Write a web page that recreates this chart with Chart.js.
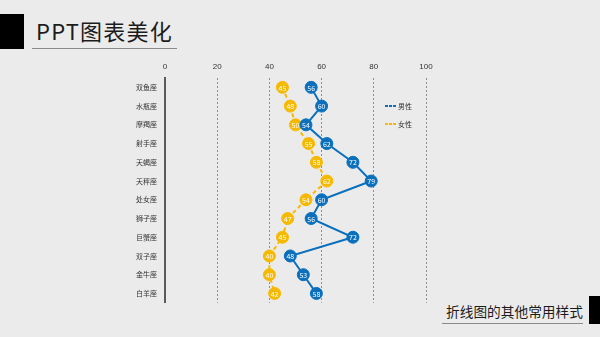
<!DOCTYPE html>
<html>
<head>
<meta charset="utf-8">
<script src="https://cdn.jsdelivr.net/npm/chart.js@4/dist/chart.umd.min.js"></script>
<style>
    body { margin: 0; width: 600px; height: 337px; background: #ebebeb; position: relative; overflow: hidden; font-family: "Noto Sans CJK SC", sans-serif; }
    .bloc { position: absolute; background: #000; }
    .titre { position: absolute; left: 36px; top: 14px; font-size: 22px; color: #1c1c1c; line-height: 32px; white-space: nowrap; letter-spacing: 1.2px; }
    .trait { position: absolute; height: 1px; background: #8a8a8a; }
    .soustitre { position: absolute; left: 446px; top: 300px; font-size: 13.7px; color: #1c1c1c; line-height: 22px; white-space: nowrap; }
    #zone { position: absolute; left: 100px; top: 55px; width: 340px; height: 260px; }
    .legende { position: absolute; left: 385px; font-size: 7px; color: #333; display: flex; align-items: center; white-space: nowrap; }
    .legende span { display: inline-block; width: 12px; height: 2px; margin-right: 1px; }
</style>
</head>
<body>
<div class="bloc" style="left:0;top:14px;width:24px;height:35px"></div>
<div class="titre">PPT图表美化</div>
<div class="trait" style="left:32px;top:48px;width:145px"></div>

<div id="zone"><canvas id="graphe"></canvas></div>

<div class="legende" style="top:101px"><span style="background:repeating-linear-gradient(90deg,#0a6fbd 0 3px,transparent 3px 4px)"></span>男性</div>
<div class="legende" style="top:119px"><span style="background:repeating-linear-gradient(90deg,#f7b900 0 3px,transparent 3px 4px)"></span>女性</div>

<div class="soustitre">折线图的其他常用样式</div>
<div class="trait" style="left:442px;top:323px;width:141px"></div>
<div class="bloc" style="left:589px;top:296px;width:11px;height:28px"></div>

<script>
// --- donnees ---
const signes = ["双鱼座", "水瓶座", "摩羯座", "射手座", "天蝎座", "天秤座", "处女座", "狮子座", "巨蟹座", "双子座", "金牛座", "白羊座"];
const hommes = [56, 60, 54, 62, 72, 79, 60, 56, 72, 48, 53, 58];
const femmes = [45, 48, 50, 55, 58, 62, 54, 47, 45, 40, 40, 42];
const graduations = [0, 20, 40, 60, 80, 100];

const bleu = "#0a6fbd";
const jaune = "#f7b900";

// valeurs ecrites dans les points
const etiquettes = {
    id: "etiquettes",
    afterDatasetDraw(chart, args) {
        const ctx = chart.ctx;
        const valeurs = chart.data.datasets[args.index].data;
        ctx.save();
        ctx.fillStyle = "#fff";
        ctx.font = "7px 'Noto Sans CJK SC', sans-serif";
        ctx.textAlign = "center";
        ctx.textBaseline = "middle";
        args.meta.data.forEach((pt, i) => {
            ctx.fillText(valeurs[i], pt.x, pt.y + 0.5);
        });
        ctx.restore();
    }
};

new Chart(document.getElementById("graphe"), {
    type: "line",
    data: {
        labels: signes,
        datasets: [{
            label: "男性",
            data: hommes,
            borderColor: bleu,
            backgroundColor: bleu,
            pointBackgroundColor: bleu,
            pointBorderColor: bleu,
            pointBorderWidth: 1,
            pointRadius: 6,
            borderWidth: 2,
            order: 1
        }, {
            label: "女性",
            data: femmes,
            borderColor: jaune,
            backgroundColor: jaune,
            pointBackgroundColor: jaune,
            pointBorderColor: jaune,
            pointBorderWidth: 1,
            pointRadius: 6,
            borderWidth: 2,
            borderDash: [4, 3],
            order: 2
        }]
    },
    options: {
        indexAxis: "y",
        responsive: true,
        maintainAspectRatio: false,
        animation: false,
        layout: { padding: { left: 0, right: 14, top: 0, bottom: 0 } },
        plugins: {
            legend: { display: false },
            tooltip: { enabled: false }
        },
        scales: {
            x: {
                position: "top",
                min: 0,
                max: 100,
                afterBuildTicks: axe => { axe.ticks = graduations.map(v => ({ value: v })); },
                afterFit: axe => { axe.height = 23; },
                grid: { color: "#8c8c8c", lineWidth: 1, drawTicks: false },
                border: { display: false, dash: [2, 2] },
                ticks: { color: "#333", font: { size: 8 }, padding: 6 }
            },
            y: {
                offset: true,
                afterFit: axe => { axe.width = 65; },
                grid: { display: false, drawTicks: false },
                border: { display: true, color: "#5a5a5a", width: 2 },
                ticks: { color: "#333", font: { size: 7, family: "'Noto Sans CJK SC', sans-serif" }, padding: 8 }
            }
        }
    },
    plugins: [etiquettes]
});
</script>
</body>
</html>
